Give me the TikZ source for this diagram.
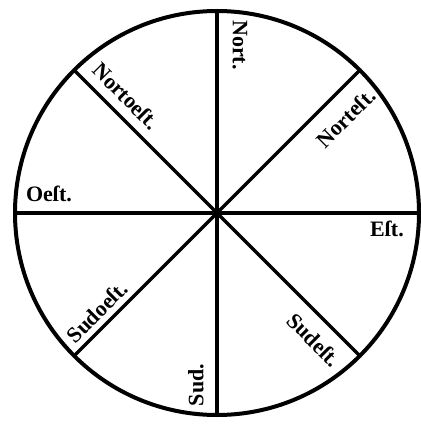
\documentclass[tikz,border=0pt]{standalone}
\usepackage{fontspec}
\setmainfont{Liberation Serif}
\begin{document}
\begin{tikzpicture}[x=1pt,y=-1pt,
  rim/.style={line width=4pt},
  spoke/.style={line width=3.3pt},
  lbl/.style={font=\fontsize{22}{22}\selectfont\bfseries, inner sep=0pt}]
\useasboundingbox (0,0) rectangle (420,425);
\coordinate (C) at (217,213);
\draw[rim] (C) circle[radius=202];
\path (C) ++(0,-202) coordinate (N) (C) ++(0,202) coordinate (S)
      (C) ++(-202,0) coordinate (W) (C) ++(202,0) coordinate (E)
      (C) ++(-142.8,-142.8) coordinate (NW) (C) ++(142.8,142.8) coordinate (SE)
      (C) ++(142.8,-142.8) coordinate (NE) (C) ++(-142.8,142.8) coordinate (SW);
\draw[spoke] (N) -- (S);
\draw[spoke] (W) -- (E);
\draw[spoke] (NW) -- (SE);
\draw[spoke] (NE) -- (SW);
\node[lbl, rotate=-90] (nort) at (240,45) {Nort.};
\node[lbl, rotate=-45] (nortoest) at (126,96) {Nortoeſt.};
\node[lbl, rotate=45] (nortest) at (346,118) {Norteſt.};
\node[lbl] (oest) at (49,194) {Oeſt.};
\node[lbl] (est) at (387,229) {Eſt.};
\node[lbl, rotate=45] (sudoest) at (97,312) {Sudoeſt.};
\node[lbl, rotate=-45] (sudest) at (314,340) {Sudeſt.};
\node[lbl, rotate=90] (sud) at (196,385) {Sud.};
\end{tikzpicture}
\end{document}
